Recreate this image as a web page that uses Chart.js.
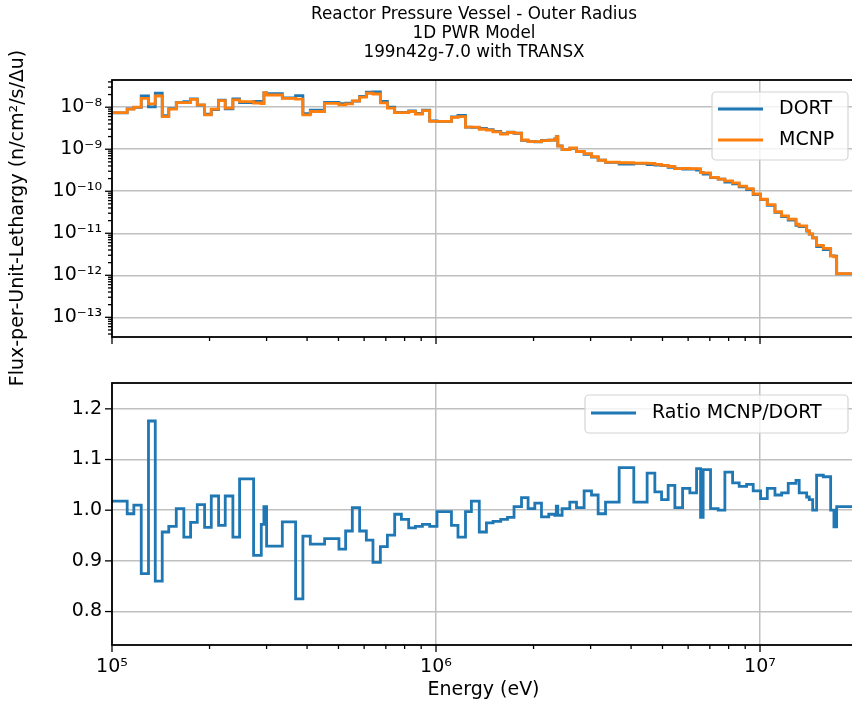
<!DOCTYPE html>
<html>
<head>
<meta charset="utf-8">
<title>Reactor Pressure Vessel - Outer Radius</title>
<script src="https://cdn.jsdelivr.net/npm/chart.js@4.4.1/dist/chart.umd.min.js"></script>
<style>
    html, body { margin: 0; padding: 0; background: #fff; overflow: hidden; }
    #wrap { position: relative; width: 852px; height: 704px; overflow: hidden; }
    canvas { position: absolute; left: 0; }
    #fluxChart { top: 0; }
    #ratioChart { top: 345px; }
</style>
</head>
<body>
<div id="wrap">
    <canvas id="fluxChart" width="860" height="400"></canvas>
    <canvas id="ratioChart" width="860" height="359"></canvas>
</div>
<script>
// group boundaries (eV), lower edge of each group + top edge of the last one
const groupEdges = [
    1.000e5, 1.114e5, 1.168e5, 1.231e5, 1.296e5, 1.360e5, 1.429e5, 1.497e5, 1.579e5, 1.666e5,
    1.748e5, 1.833e5, 1.931e5, 2.025e5, 2.133e5, 2.236e5, 2.361e5, 2.476e5, 2.735e5, 2.889e5,
    2.943e5, 3.000e5, 3.355e5, 3.687e5, 3.883e5, 4.093e5, 4.531e5, 5.017e5, 5.261e5, 5.517e5,
    5.811e5, 6.095e5, 6.389e5, 6.734e5, 7.078e5, 7.456e5, 7.818e5, 8.235e5, 8.638e5, 9.078e5,
    9.561e5, 1.007e6, 1.116e6, 1.169e6, 1.233e6, 1.286e6, 1.360e6, 1.431e6, 1.500e6, 1.584e6,
    1.662e6, 1.741e6, 1.836e6, 1.924e6, 2.018e6, 2.116e6, 2.228e6, 2.326e6, 2.351e6, 2.376e6,
    2.450e6, 2.588e6, 2.714e6, 2.865e6, 3.019e6, 3.165e6, 3.336e6, 3.675e6, 4.078e6, 4.483e6,
    4.736e6, 4.967e6, 5.206e6, 5.460e6, 5.768e6, 6.074e6, 6.370e6, 6.554e6, 6.676e6, 7.036e6,
    7.427e6, 7.790e6, 8.229e6, 8.624e6, 9.091e6, 9.528e6, 1.004e7, 1.053e7, 1.112e7, 1.166e7,
    1.222e7, 1.291e7, 1.321e7, 1.393e7, 1.419e7, 1.454e7, 1.495e7, 1.568e7, 1.652e7, 1.691e7,
    1.724e7, 1.964e7
];

const dortFlux = [
    7.3e-9, 9.1e-9, 9.9e-9, 1.86e-8, 1.02e-8, 2.15e-8, 6.3e-9, 9.3e-9, 1.28e-8, 1.36e-8,
    1.58e-8, 1.12e-8, 6.8e-9, 8.8e-9, 1.47e-8, 9.2e-9, 1.57e-8, 1.28e-8, 1.38e-8, 1.26e-8,
    2.2e-8, 2.1e-8, 1.66e-8, 1.88e-8, 7.0e-9, 8.5e-9, 1.31e-8, 1.22e-8, 1.25e-8, 1.4e-8,
    1.8e-8, 2.28e-8, 2.3e-8, 1.37e-8, 1.0e-8, 7.5e-9, 7.55e-9, 8.2e-9, 7.1e-9, 8.5e-9,
    4.75e-9, 4.62e-9, 5.9e-9, 6.35e-9, 3.36e-9, 3.3e-9, 3.12e-9, 2.92e-9, 2.66e-9, 2.34e-9,
    2.54e-9, 2.4e-9, 1.62e-9, 1.52e-9, 1.5e-9, 1.62e-9, 1.65e-9, 1.75e-9, 1.98e-9, 1.2e-9,
    9.8e-10, 1.05e-9, 8.8e-10, 7.6e-10, 6.5e-10, 5.5e-10, 4.85e-10, 4.4e-10, 4.6e-10, 4.3e-10,
    4.2e-10, 4.05e-10, 3.7e-10, 3.45e-10, 3.35e-10, 3.35e-10, 3.2e-10, 2.8e-10, 2.55e-10, 2.12e-10,
    1.95e-10, 1.65e-10, 1.5e-10, 1.27e-10, 1.1e-10, 8.3e-11, 6.3e-11, 4.6e-11, 3.15e-11, 2.5e-11,
    2.05e-11, 1.55e-11, 1.45e-11, 1.12e-11, 9.5e-12, 7.8e-12, 4.8e-12, 4.1e-12, 2.9e-12, 2.85e-12,
    1.08e-12
];

const mcnpFlux = [
    7.4e-9, 9.0e-9, 1.0e-8, 1.63e-8, 1.2e-8, 1.85e-8, 6.0e-9, 9.0e-9, 1.28e-8, 1.29e-8,
    1.54e-8, 1.13e-8, 6.6e-9, 9.0e-9, 1.43e-8, 9.5e-9, 1.49e-8, 1.36e-8, 1.26e-8, 1.22e-8,
    2.22e-8, 1.95e-8, 1.62e-8, 1.55e-8, 6.6e-9, 7.9e-9, 1.24e-8, 1.13e-8, 1.2e-8, 1.41e-8,
    1.73e-8, 2.15e-8, 2.06e-8, 1.27e-8, 9.5e-9, 7.44e-9, 7.41e-9, 7.9e-9, 6.9e-9, 8.3e-9,
    4.6e-9, 4.6e-9, 5.7e-9, 6.0e-9, 3.35e-9, 3.36e-9, 2.99e-9, 2.85e-9, 2.6e-9, 2.3e-9,
    2.5e-9, 2.42e-9, 1.66e-9, 1.52e-9, 1.52e-9, 1.6e-9, 1.64e-9, 1.73e-9, 2.0e-9, 1.19e-9,
    9.83e-10, 1.07e-9, 8.84e-10, 7.89e-10, 6.7e-10, 5.46e-10, 4.93e-10, 4.77e-10, 4.67e-10, 4.61e-10,
    4.35e-10, 4.13e-10, 3.88e-10, 3.47e-10, 3.49e-10, 3.46e-10, 3.46e-10, 2.76e-10, 2.75e-10, 2.13e-10,
    1.95e-10, 1.77e-10, 1.58e-10, 1.33e-10, 1.16e-10, 8.6e-11, 6.45e-11, 4.8e-11, 3.25e-11, 2.59e-11,
    2.16e-11, 1.64e-11, 1.5e-11, 1.15e-11, 9.7e-12, 7.8e-12, 5.13e-12, 4.37e-12, 2.9e-12, 2.76e-12,
    1.09e-12
];

const ratioMcnpDort = [
    1.018, 0.993, 1.010, 0.875, 1.176, 0.860, 0.957, 0.968, 1.003, 0.947,
    0.976, 1.011, 0.966, 1.028, 0.970, 1.028, 0.947, 1.062, 0.911, 0.972,
    1.007, 0.929, 0.977, 0.825, 0.949, 0.933, 0.944, 0.923, 0.959, 1.005,
    0.959, 0.941, 0.897, 0.928, 0.951, 0.992, 0.982, 0.965, 0.968, 0.972,
    0.968, 0.997, 0.970, 0.947, 0.997, 1.018, 0.957, 0.975, 0.978, 0.982,
    0.986, 1.007, 1.025, 1.003, 1.014, 0.987, 0.992, 0.990, 1.008, 0.990,
    1.003, 1.016, 1.005, 1.038, 1.030, 0.993, 1.016, 1.084, 1.016, 1.073,
    1.036, 1.021, 1.049, 1.005, 1.043, 1.034, 1.082, 0.986, 1.080, 1.003,
    1.000, 1.075, 1.054, 1.047, 1.051, 1.038, 1.023, 1.043, 1.030, 1.034,
    1.053, 1.059, 1.034, 1.026, 1.021, 1.000, 1.069, 1.066, 1.000, 0.967,
    1.007
];

const energyTicks = [1e5, 1e6, 1e7];
const energyTickLabels = ["10⁵", "10⁶", "10⁷"];
const fluxTicks = [1e-13, 1e-12, 1e-11, 1e-10, 1e-9, 1e-8];
const fluxTickLabels = ["10⁻¹³", "10⁻¹²", "10⁻¹¹", "10⁻¹⁰", "10⁻⁹", "10⁻⁸"];
const ratioTicks = [0.8, 0.9, 1.0, 1.1, 1.2];
const ratioTickLabels = ["0.8", "0.9", "1.0", "1.1", "1.2"];
const titleLines = [
    "Reactor Pressure Vessel - Outer Radius",
    "1D PWR Model",
    "199n42g-7.0 with TRANSX",
];

const FONT = "DejaVu Sans";
const GRID = "#c0c0c0";
Chart.defaults.font.family = FONT;
Chart.defaults.color = "#000";

// step curve: each value holds from its lower edge to the next edge
function toSteps(values) {
    const pts = values.map((v, i) => ({ x: groupEdges[i], y: v }));
    pts.push({ x: groupEdges[values.length], y: values[values.length - 1] });
    return pts;
}

function minorLogValues(min, max) {
    const out = [];
    for (let e = Math.floor(Math.log10(min)); e <= Math.ceil(Math.log10(max)); e++) {
        for (let k = 2; k <= 9; k++) {
            const v = k * Math.pow(10, e);
            if (v > min && v < max) out.push(v);
        }
    }
    return out;
}

// matplotlib-like frame with major/minor tick marks
const axesFrame = {
    id: "axesFrame",
    afterDraw(chart) {
        const { ctx, chartArea: a } = chart;
        const xs = chart.scales.x;
        const ys = chart.scales.y;
        const line = (x1, y1, x2, y2) => {
            ctx.beginPath();
            ctx.moveTo(x1, y1);
            ctx.lineTo(x2, y2);
            ctx.stroke();
        };
        ctx.save();
        ctx.strokeStyle = "#000";
        ctx.lineWidth = 1.3;
        energyTicks.forEach((v) => {
            const px = xs.getPixelForValue(v);
            line(px, a.bottom, px, a.bottom + 7);
        });
        minorLogValues(xs.min, xs.max).forEach((v) => {
            const px = xs.getPixelForValue(v);
            line(px, a.bottom, px, a.bottom + 4);
        });
        ys.ticks.forEach((t) => {
            const py = ys.getPixelForValue(t.value);
            line(a.left - 7, py, a.left, py);
        });
        if (ys.type === "logarithmic") {
            minorLogValues(ys.min, ys.max).forEach((v) => {
                const py = ys.getPixelForValue(v);
                line(a.left - 4, py, a.left, py);
            });
        }
        ctx.lineWidth = 1.8;
        ctx.strokeRect(a.left, a.top, a.right - a.left, a.bottom - a.top);
        ctx.restore();
    },
};

const boxLegend = {
    id: "boxLegend",
    afterDraw(chart, args, o) {
        const ctx = chart.ctx;
        ctx.save();
        ctx.beginPath();
        ctx.roundRect(o.x, o.y, o.w, o.h, 4);
        ctx.fillStyle = "rgba(255,255,255,0.8)";
        ctx.fill();
        ctx.strokeStyle = "#d4d4d4";
        ctx.lineWidth = 1.2;
        ctx.stroke();
        ctx.font = "19px '" + FONT + "'";
        ctx.textBaseline = "middle";
        chart.data.datasets.forEach((ds, i) => {
            const ry = o.y + o.first + i * o.step;
            ctx.strokeStyle = ds.borderColor;
            ctx.lineWidth = 2.8;
            ctx.beginPath();
            ctx.moveTo(o.x + 6, ry);
            ctx.lineTo(o.x + 51, ry);
            ctx.stroke();
            ctx.fillStyle = "#000";
            ctx.fillText(ds.label, o.x + 67, ry);
        });
        ctx.restore();
    },
};

const figureText = {
    id: "figureText",
    afterDraw(chart) {
        const ctx = chart.ctx;
        ctx.save();
        ctx.fillStyle = "#000";
        ctx.textAlign = "center";
        ctx.textBaseline = "middle";
        ctx.font = "16.8px '" + FONT + "'";
        titleLines.forEach((t, i) => ctx.fillText(t, 474, 15 + i * 18.6));
        ctx.translate(18, 218);
        ctx.rotate(-Math.PI / 2);
        ctx.font = "19px '" + FONT + "'";
        ctx.fillText("Flux-per-Unit-Lethargy (n/cm²/s/Δu)", 0, 0);
        ctx.restore();
    },
};

const xAxis = (showLabels) => ({
    type: "logarithmic",
    min: 1e5,
    max: 1.964e7,
    afterBuildTicks: (s) => { s.ticks = energyTicks.map((v) => ({ value: v })); },
    afterFit: (s) => { s.height = showLabels ? 59 : 0; },
    ticks: {
        display: showLabels,
        autoSkip: false,
        maxRotation: 0,
        padding: 11,
        font: { size: 19 },
        callback: (v, i) => energyTickLabels[i],
    },
    title: {
        display: showLabels,
        text: "Energy (eV)",
        font: { size: 19 },
        padding: { top: 0, bottom: 3 },
    },
    grid: { color: GRID, lineWidth: 1.5, drawTicks: false },
    border: { display: false },
});

new Chart(document.getElementById("fluxChart"), {
    type: "line",
    data: {
        datasets: [
            {
                label: "DORT",
                data: toSteps(dortFlux),
                borderColor: "#1f77b4",
                order: 1,
            },
            {
                label: "MCNP",
                data: toSteps(mcnpFlux),
                borderColor: "#ff7f0e",
                order: 0,
            },
        ],
    },
    options: {
        responsive: false,
        animation: false,
        layout: { padding: { top: 80, right: 5, bottom: 63, left: 0 } },
        elements: {
            line: { borderWidth: 2.8, stepped: true, fill: false },
            point: { radius: 0 },
        },
        plugins: {
            legend: { display: false },
            tooltip: { enabled: false },
            boxLegend: { x: 712, y: 92, w: 136, h: 68, first: 17, step: 31 },
        },
        scales: {
            x: xAxis(false),
            y: {
                type: "logarithmic",
                min: 3.4e-14,
                max: 4.44e-8,
                afterBuildTicks: (s) => { s.ticks = fluxTicks.map((v) => ({ value: v })); },
                afterFit: (s) => { s.width = 112; },
                ticks: {
                    padding: 10,
                    font: { size: 19 },
                    callback: (v, i) => fluxTickLabels[i],
                },
                grid: { color: GRID, lineWidth: 1.5, drawTicks: false },
                border: { display: false },
            },
        },
    },
    plugins: [axesFrame, boxLegend, figureText],
});

new Chart(document.getElementById("ratioChart"), {
    type: "line",
    data: {
        datasets: [
            {
                label: "Ratio MCNP/DORT",
                data: toSteps(ratioMcnpDort),
                borderColor: "#1f77b4",
            },
        ],
    },
    options: {
        responsive: false,
        animation: false,
        layout: { padding: { top: 38, right: 5, bottom: 0, left: 0 } },
        elements: {
            line: { borderWidth: 2.8, stepped: true, fill: false },
            point: { radius: 0 },
        },
        plugins: {
            legend: { display: false },
            tooltip: { enabled: false },
            boxLegend: { x: 585, y: 50, w: 263, h: 38, first: 18, step: 0 },
        },
        scales: {
            x: xAxis(true),
            y: {
                type: "linear",
                min: 0.734,
                max: 1.251,
                afterBuildTicks: (s) => { s.ticks = ratioTicks.map((v) => ({ value: v })); },
                afterFit: (s) => { s.width = 112; },
                ticks: {
                    padding: 10,
                    font: { size: 19 },
                    callback: (v, i) => ratioTickLabels[i],
                },
                grid: { color: GRID, lineWidth: 1.5, drawTicks: false },
                border: { display: false },
            },
        },
    },
    plugins: [axesFrame, boxLegend],
});
</script>
</body>
</html>
